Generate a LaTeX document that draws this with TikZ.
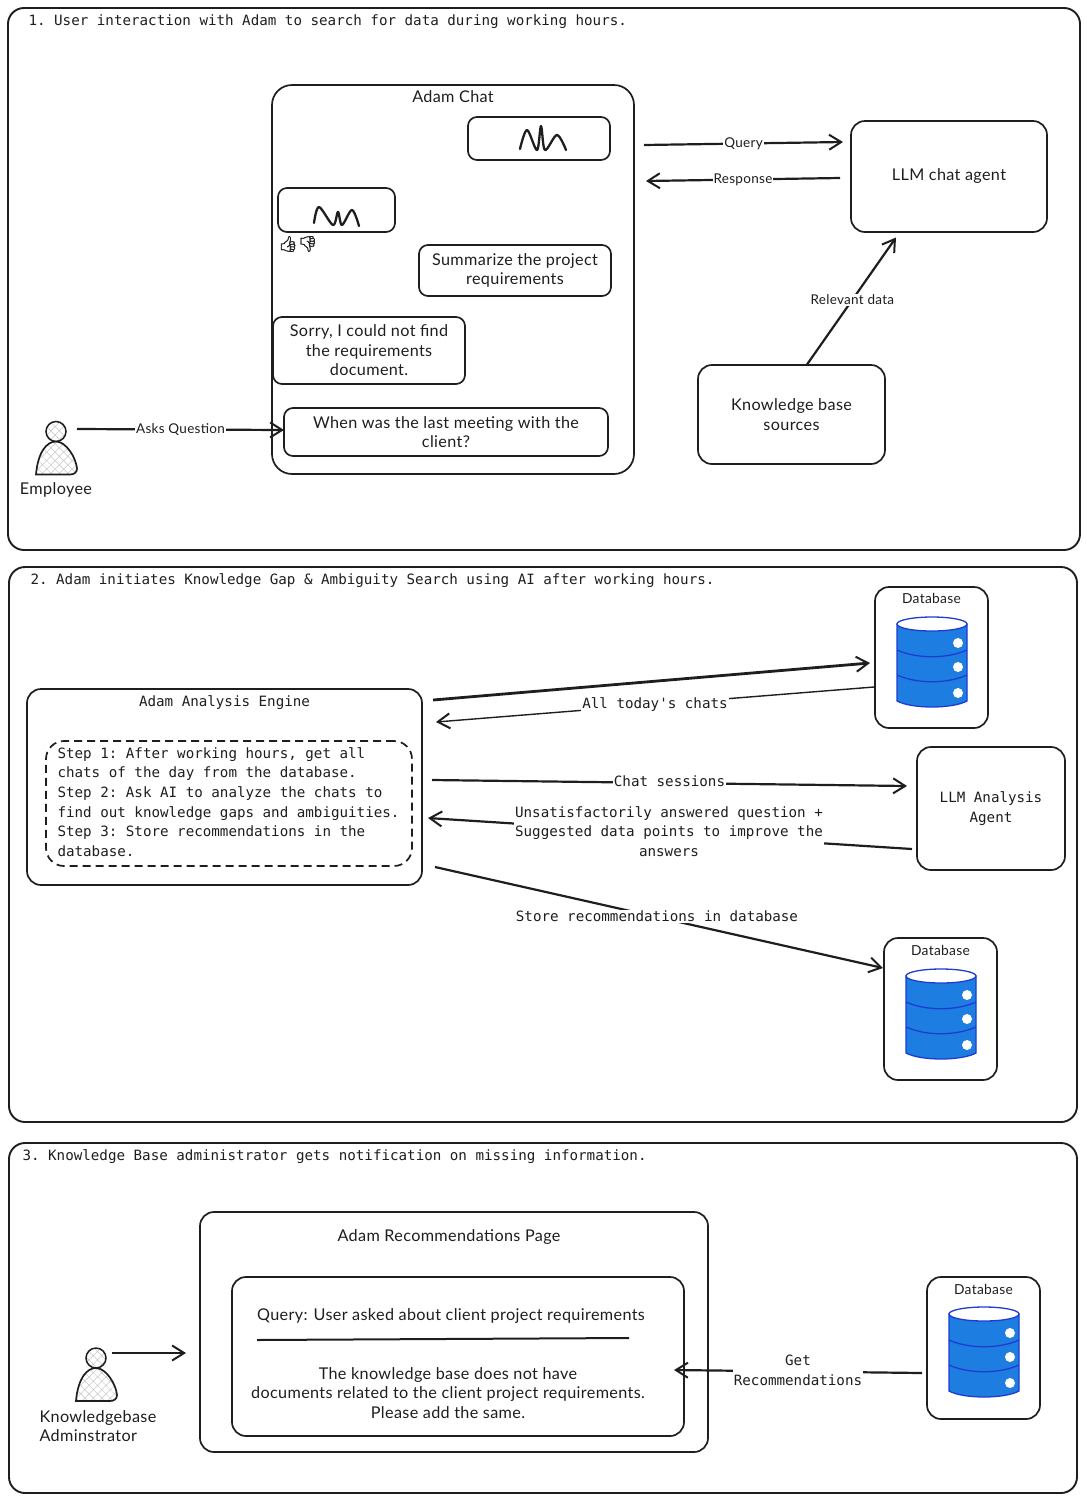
\documentclass[tikz,border=0pt]{standalone}
\usepackage{fontspec}
\usepackage{xcolor}
\usetikzlibrary{arrows.meta, patterns.meta, positioning, calc}
\setmainfont{Lato}[LetterSpace=2.2]
\setmonofont{DejaVu Sans Mono}
\newfontfamily\emojifont{Noto Emoji}[FakeBold=1.5]
\definecolor{ink}{RGB}{30, 30, 30}
\definecolor{dbblue}{RGB}{30, 125, 225}
\definecolor{dbline}{RGB}{30, 60, 210}

\begin{document}
\begin{tikzpicture}[
    x=1pt, y=-1pt,
    panel/.style={rectangle, draw=ink, line width=1.9pt, rounded corners=16pt, outer sep=0pt},
    box/.style={rectangle, draw=ink, line width=1.7pt, rounded corners=14pt, outer sep=0pt, align=center, text=ink, font=\fontsize{16.2}{19.5}\selectfont},
    bubble/.style={box, rounded corners=9pt},
    title/.style={anchor=west, text=ink, font=\ttfamily\fontsize{14.2}{19.6}\selectfont},
    hand/.style={text=ink, align=center, font=\fontsize{16.2}{19.5}\selectfont},
    mono/.style={text=ink, align=center, font=\ttfamily\fontsize{14.2}{19.6}\selectfont},
    arrow/.style={line width=2.2pt, draw=ink, -{Straight Barb[length=12pt,width=15pt,line width=2pt]}},
    tag/.style={fill=white, inner sep=1pt, text=ink, font=\fontsize{13.5}{15}\selectfont},
    monotag/.style={fill=white, inner sep=1pt, align=center, text=ink, font=\ttfamily\fontsize{14.2}{19.6}\selectfont},
    squiggle/.style={draw=ink, line width=2.3pt, line join=round, line cap=round},
    person/.pic={
        \node[circle, draw=ink, line width=1.5pt, minimum size=20pt, inner sep=0pt, pattern={Hatch[angle=45,distance=6pt,line width=.5pt]}, pattern color=gray!45] (-head) at (0,0) {};
        \draw[line width=1.7pt, draw=ink, pattern={Hatch[angle=45,distance=6pt,line width=.5pt]}, pattern color=gray!45] (-20,43) .. controls (-18,20) and (-9,10) .. (0,10) .. controls (10,10) and (20,26) .. (21,37) .. controls (21,41) and (18,43) .. (14,43) -- cycle;
    },
    dbstack/.pic={
        \draw[draw=dbline, line width=1.3pt, fill=dbblue] (-35,0) -- (-35,77) .. controls (-20,85) and (20,85) .. (35,77) -- (35,0) -- cycle;
        \draw[draw=dbline, line width=1.3pt, fill=white] (0,0) ellipse (35 and 7);
        \draw[draw=dbline, line width=1.3pt] (-35,26) .. controls (-15,35) and (15,35) .. (35,26);
        \draw[draw=dbline, line width=1.3pt] (-35,51) .. controls (-15,60) and (15,60) .. (35,51);
        \foreach \doty in {19,43,69} {
            \fill[white] (26,\doty) circle (5);
        }
    }
]
\useasboundingbox (0,0) rectangle (1087,1500);

% Panel 1
\node[panel, minimum width=1072pt, minimum height=542pt] (panelone) at (544,279) {};
\node[title] (titleone) at (25,22) {1. User interaction with Adam to search for data during working hours.};

% Adam chat window
\node[box, rounded corners=20pt, minimum width=362pt, minimum height=389pt] (adamchat) at (453,279.5) {};
\node[hand] (adamchatlabel) at (453,97) {Adam Chat};
\node[bubble, minimum width=142pt, minimum height=43pt] (bubbleone) at (539,138.5) {};
\node[bubble, minimum width=117pt, minimum height=44pt] (bubbletwo) at (336.5,210) {};
\draw[squiggle] plot[smooth, tension=.55] coordinates {(520,149) (527,130) (537,150) (541,126) (545,150) (557,135) (566,150)};
\draw[squiggle] plot[smooth, tension=.55] coordinates {(314,223) (319,207) (333,225) (338,212) (342,225) (352,210) (359,226)};
\node[text=ink, inner sep=0pt, font=\emojifont\fontsize{15.5}{15.5}\selectfont] (thumbs) at (298,244) {👍👎};
\node[bubble, minimum width=192pt, minimum height=51pt] (summarize) at (515,270.5) {Summarize the project\\requirements};
\node[bubble, minimum width=192pt, minimum height=67pt] (sorry) at (369,350.5) {Sorry, I could not find\\the requirements\\document.};
\node[bubble, minimum width=324pt, minimum height=48pt] (lastmeeting) at (446,432) {When was the last meeting with the\\client?};

% Employee
\pic (employee) at (56,431.5) {person};
\node[hand] (employeelabel) at (56,490) {Employee};

% LLM and knowledge base
\node[box, minimum width=196pt, minimum height=111pt] (chatagent) at (949,176.5) {\raisebox{-2pt}{LLM chat agent}};
\node[box, minimum width=187pt, minimum height=99pt] (kbsources) at (791.5,414.5) {Knowledge base\\sources};

% Panel 1 arrows
\draw[arrow] ([shift={(10,-134.5)}]adamchat.east) -- node[tag] (querylabel) {Query} ([shift={(-8,-34.5)}]chatagent.west);
\draw[arrow] ([shift={(-11,1.5)}]chatagent.west) -- node[tag] (responselabel) {Response} ([shift={(12,-98.5)}]adamchat.east);
\draw[arrow] ([shift={(15.5,-0.5)}]kbsources.north) -- node[tag, pos=.51] (relevantlabel) {Relevant data} ([shift={(-53,5.5)}]chatagent.south);
\draw[arrow] ([shift={(21,-2.5)}]employee-head.center) -- node[tag, pos=.5] (askslabel) {Asks Question} ([shift={(0,-2)}]lastmeeting.west);

% Panel 2
\node[panel, minimum width=1068pt, minimum height=555pt] (paneltwo) at (543,844.5) {};
\node[title] (titletwo) at (27,581) {2. Adam initiates Knowledge Gap \& Ambiguity Search using AI after working hours.};

% Analysis engine
\node[box, minimum width=395pt, minimum height=196pt] (engine) at (224.5,787) {};
\node[mono] (enginelabel) at (224.5,703) {Adam Analysis Engine};
\node[box, dash pattern=on 8pt off 5pt, rounded corners=18pt, minimum width=366pt, minimum height=125pt] (stepsbox) at (229,803.5) {};
\node[mono, anchor=west, align=left] (stepstext) at (54,802) {Step 1: After working hours, get all\\chats of the day from the database.\\Step 2: Ask AI to analyze the chats to\\find out knowledge gaps and ambiguities.\\Step 3: Store recommendations in the\\database.};

% Databases
\node[box, minimum width=113pt, minimum height=141pt] (dbone) at (931.5,657.5) {};
\node[hand, font=\fontsize{13.8}{15}\selectfont] (dbonelabel) at (931.5,598) {Database};
\pic (dbonestack) at (932,624) {dbstack};
\node[box, minimum width=113pt, minimum height=142pt] (dbtwo) at (940.5,1009) {};
\node[hand, font=\fontsize{13.8}{15}\selectfont] (dbtwolabel) at (940.5,950) {Database};
\pic (dbtwostack) at (941,976) {dbstack};
\node[box, minimum width=148pt, minimum height=123pt] (analysisagent) at (991,808.5) {\ttfamily\fontsize{14.2}{19.6}\selectfont LLM Analysis\\\ttfamily\fontsize{14.2}{19.6}\selectfont Agent};

% Panel 2 arrows
\draw[arrow, line width=2.8pt] ([shift={(11,-87)}]engine.east) -- ([shift={(-5,5.5)}]dbone.west);
\draw[arrow, line width=1.4pt] ([shift={(-1,29.5)}]dbone.west) -- node[monotag, pos=.5] (chatslabel) {All today's chats} ([shift={(14,-65)}]engine.east);
\draw[arrow] ([shift={(10,-7)}]engine.east) -- node[monotag, pos=.5, yshift=2pt] (sessionslabel) {Chat sessions} ([shift={(-10,-22.5)}]analysisagent.west);
\draw[arrow] ([shift={(-5,40.5)}]analysisagent.west) -- node[monotag, pos=.5, xshift=-1pt, yshift=2pt] (answerlabel) {Unsatisfactorily answered question +~\\Suggested data points to improve the\\answers} ([shift={(6,31)}]engine.east);
\draw[arrow] ([shift={(13,80)}]engine.east) -- node[monotag, pos=.5, xshift=-2pt, yshift=1pt] (storelabel) {Store recommendations in database} ([shift={(-1,-41)}]dbtwo.west);

% Panel 3
\node[panel, minimum width=1068pt, minimum height=350pt] (panelthree) at (543,1318) {};
\node[title] (titlethree) at (19,1157) {3. Knowledge Base administrator gets notification on missing information.};

% Recommendations page
\node[box, minimum width=508pt, minimum height=240pt] (recpage) at (454,1332) {};
\node[hand] (recpagelabel) at (449,1237) {Adam Recommendations Page};
\node[box, minimum width=452pt, minimum height=159pt] (recbox) at (458,1356.5) {};
\node[hand] (recquery) at (451,1316) {Query: User asked about client project requirements};
\coordinate (ruleleft) at (257,1340);
\coordinate (ruleright) at (629,1338);
\draw[line width=2pt, draw=ink] (ruleleft) -- (ruleright);
\node[hand] (recbody) at (448,1393) {The knowledge base does not have\\documents related to the client project requirements.\\Please add the same.};

% Administrator
\pic (admin) at (96,1358) {person};
\node[hand, align=left, anchor=west] (adminlabel) at (36,1426) {Knowledgebase\\Adminstrator};
\coordinate (adminarrowend) at (186,1353);
\draw[arrow] ([shift={(16,-5)}]admin-head.center) -- (adminarrowend);

% Third database
\node[box, minimum width=113pt, minimum height=142pt] (dbthree) at (983.5,1348) {};
\node[hand, font=\fontsize{13.8}{15}\selectfont] (dbthreelabel) at (983.5,1289) {Database};
\pic (dbthreestack) at (984,1314) {dbstack};
\draw[arrow] ([shift={(-5,25)}]dbthree.west) -- node[monotag, pos=.5, yshift=1pt] (getlabel) {Get\\Recommendations} ([shift={(-10,13.5)}]recbox.east);

\end{tikzpicture}
\end{document}
